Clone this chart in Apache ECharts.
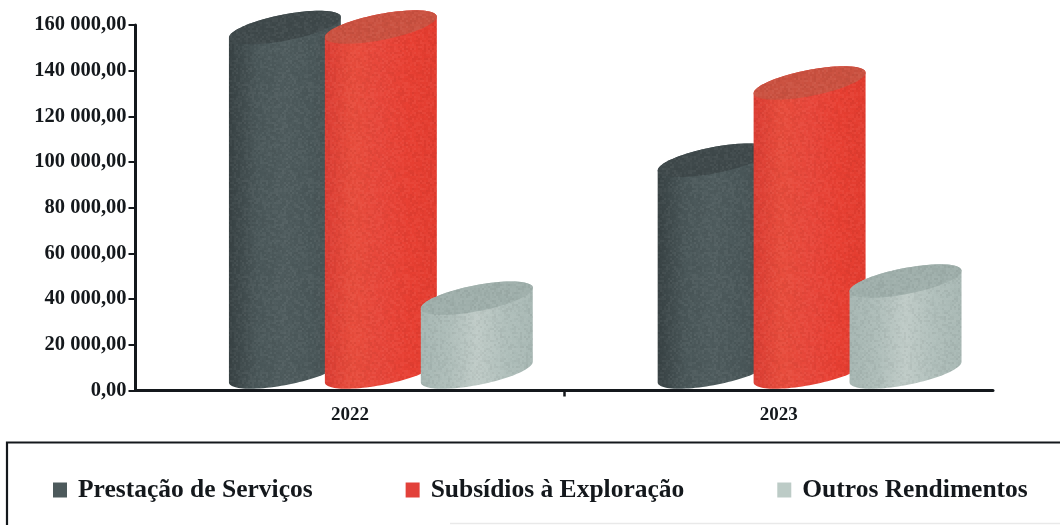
<!DOCTYPE html>
<html><head><meta charset="utf-8">
<script src="https://cdn.jsdelivr.net/npm/echarts@6/dist/echarts.min.js"></script>
<style>html,body{margin:0;padding:0;background:#fff}#c{width:1060px;height:525px}</style></head>
<body><div id="c"></div>
<script>
const categories = ['2022', '2023'];
const prestacaoServicos = [150800, 92700];
const subsidiosExploracao = [151000, 126500];
const outrosRendimentos = [32300, 39800];
const seriesNames = ['Prestação de Serviços', 'Subsídios à Exploração', 'Outros Rendimentos'];

const FONT = '"Liberation Serif","Times New Roman",serif';
const INK = '#14181c';
const BAND_PX = 429;
const palette = [
  {legend:'#4d5a5c', top:'#3f494b', stops:['#384244','#4a5759','#4f5c5e','#4a5759','#465153']},
  {legend:'#e2413a', top:'#cb5140', stops:['#dc3d33','#e84c3c','#e8463a','#e83f32','#e33c2f']},
  {legend:'#bccbc6', top:'#9fafab', stops:['#a6b6b2','#aebdb9','#bfcbc7','#b0bfbb','#a8b8b4']}
];
const offsets = [-65, 31, 127];

// Paper-grain overlay: a scanned look, not data.
function grainTexture() {
  const cv = document.createElement('canvas');
  cv.width = cv.height = 96;
  const g = cv.getContext('2d');
  let s = 12345;
  for (let y = 0; y < 96; y += 2) for (let x = 0; x < 96; x += 2) {
    s = (s * 1103515245 + 12345) & 0x7fffffff;
    const n = (s >> 16) & 255;
    g.fillStyle = n > 127 ? 'rgba(255,255,255,' + ((n - 128) / 127 * 0.05).toFixed(3) + ')'
                          : 'rgba(0,0,0,' + ((127 - n) / 127 * 0.05).toFixed(3) + ')';
    g.fillRect(x, y, 2, 2);
  }
  return cv;
}
const grain = grainTexture();

function ellipsePoints(cx, cy, a, b, phi, from, to, n) {
  const pts = [];
  for (let i = 0; i <= n; i++) {
    const t = from + (to - from) * i / n;
    pts.push([
      cx + a * Math.cos(t) * Math.cos(phi) - b * Math.sin(t) * Math.sin(phi),
      cy + a * Math.cos(t) * Math.sin(phi) + b * Math.sin(t) * Math.cos(phi)
    ]);
  }
  return pts;
}

function cylinder(seriesIndex) {
  return function (params, api) {
    const band = api.size([1, 0])[0];
    const k = band / BAND_PX;
    const top = api.coord([api.value(0), api.value(1)]);
    const base = api.coord([api.value(0), 0]);
    const cx = base[0] + offsets[seriesIndex] * k;
    const lift = 18.5;
    const a = 57 * k, b = 13 * k, phi = -11 * Math.PI / 180;
    const th = Math.atan2(-b * Math.sin(phi), a * Math.cos(phi));
    const topY = top[1] - lift, baseY = base[1] - lift;
    const body = []
      .concat(ellipsePoints(cx, baseY, a, b, phi, Math.PI + th, th, 48))
      .concat(ellipsePoints(cx, topY, a, b, phi, th, th - Math.PI, 48));
    const face = ellipsePoints(cx, topY, a, b, phi, 0, 2 * Math.PI, 72);
    const p = palette[seriesIndex];
    const grad = new echarts.graphic.LinearGradient(0, 0, 1, 0,
      p.stops.map((c, i) => ({offset: i / (p.stops.length - 1), color: c})));
    return {type: 'group', children: [
      {type: 'polygon', shape: {points: body}, style: {fill: grad}},
      {type: 'polygon', shape: {points: face}, style: {fill: p.top}},
      {type: 'polygon', shape: {points: body}, style: {fill: {image: grain, repeat: 'repeat'}}}
    ]};
  };
}

const rows = s => categories.map((c, i) => [i, s[i]]);
const chart = echarts.init(document.getElementById('c'), null, {renderer: 'canvas'});
chart.setOption({
  animation: false,
  backgroundColor: '#fff',
  grid: {left: 135.5, right: 67, top: 25, bottom: 134.5},
  xAxis: [{
    type: 'category', data: categories, boundaryGap: true,
    axisLine: {lineStyle: {color: INK, width: 3}},
    axisTick: {show: false},
    axisLabel: {fontFamily: FONT, fontWeight: 'bold', fontSize: 19, color: INK, margin: 15}
  }, {
    type: 'value', min: 0, max: 2, position: 'bottom',
    axisLine: {show: false}, axisLabel: {show: false}, splitLine: {show: false},
    axisTick: {show: true, customValues: [1], length: 6, lineStyle: {color: INK, width: 2.5}}
  }],
  yAxis: {
    type: 'value', min: 0, max: 160000, interval: 20000,
    splitLine: {show: false},
    axisLine: {show: true, lineStyle: {color: INK, width: 3}},
    axisTick: {show: true, length: 7, lineStyle: {color: INK, width: 2}},
    axisLabel: {fontFamily: FONT, fontWeight: 'bold', fontSize: 20.5, color: INK, margin: 9,
      padding: [3, 0, 0, 0],
      formatter: v => String(v).replace(/\B(?=(\d{3})+$)/g, ' ') + ',00'}
  },
  legend: {
    left: 53, top: 477, itemWidth: 14, itemHeight: 15, itemGap: 93, icon: 'rect', padding: 0,
    selectedMode: false,
    textStyle: {fontFamily: FONT, fontWeight: 'bold', fontSize: 25.5, color: INK, padding: [2,0,0,6]},
    data: seriesNames.map((n, i) => ({name: n, itemStyle: {color: palette[i].legend}}))
  },
  graphic: [
    {type: 'polyline', silent: true, shape: {points: [[1060, 442.5], [7, 442.5], [7, 525]]},
      style: {stroke: INK, lineWidth: 2.2, fill: null}},
    {type: 'line', silent: true, shape: {x1: 450, y1: 523.5, x2: 1060, y2: 523.5},
      style: {stroke: '#e9e9e9', lineWidth: 1.5}}
  ],
  series: [prestacaoServicos, subsidiosExploracao, outrosRendimentos].map((s, i) => ({
    type: 'custom', name: seriesNames[i], coordinateSystem: 'cartesian2d',
    encode: {x: 0, y: 1}, data: rows(s), renderItem: cylinder(i),
    itemStyle: {color: palette[i].legend}, clip: false, z: 2 + i
  }))
});
</script></body></html>
